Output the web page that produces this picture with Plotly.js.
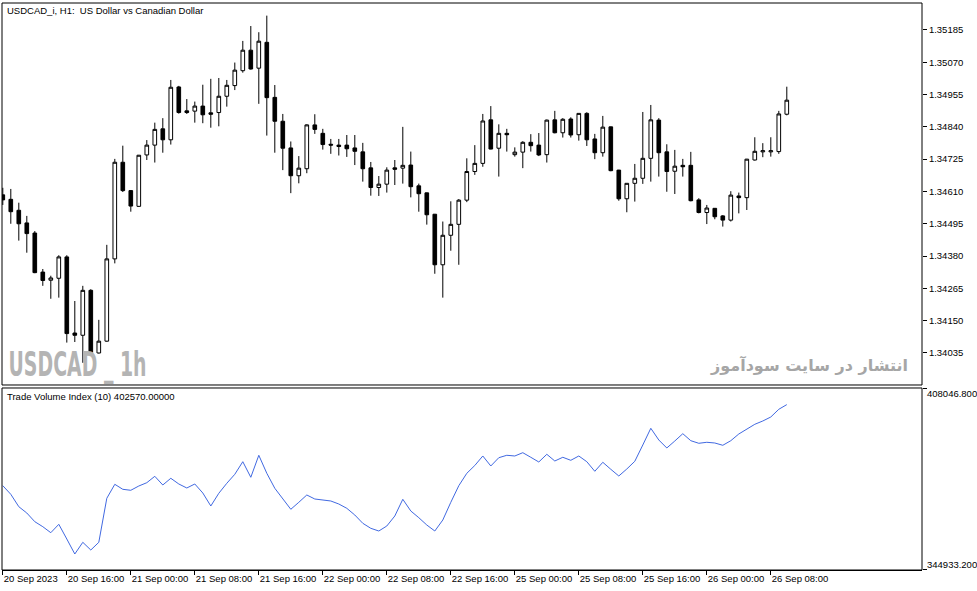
<!DOCTYPE html>
<html>
<head>
<meta charset="utf-8">
<script src="https://cdn.plot.ly/plotly-3.0.1.min.js"></script>
<style>html,body{margin:0;padding:0;background:#fff;}#chart{width:977px;height:591px;}</style>
</head>
<body>
<div id="chart"></div>
<script>
// ---- data (USDCAD_i, H1) ----
const openP = [1.34598,1.34582,1.34543,1.34498,1.34462,1.34323,1.34294,1.34301,1.34377,1.34106,
1.34098,1.34258,1.34035,1.34077,1.34370,1.34714,1.34613,1.34557,1.34740,1.34775,
1.34833,1.34794,1.34982,1.34897,1.34896,1.34914,1.34890,1.34891,1.34949,1.34987,
1.35040,1.35113,1.35049,1.35141,1.34945,1.34860,1.34765,1.34666,1.34691,1.34847,
1.34817,1.34778,1.34775,1.34775,1.34765,1.34751,1.34694,1.34624,1.34636,1.34694,
1.34693,1.34704,1.34630,1.34605,1.34529,1.34349,1.34454,1.34493,1.34579,1.34681,
1.34710,1.34865,1.34764,1.34817,1.34741,1.34750,1.34785,1.34775,1.34741,1.34865,
1.34819,1.34868,1.34812,1.34888,1.34797,1.34748,1.34840,1.34686,1.34584,1.34639,
1.34657,1.34728,1.34864,1.34751,1.34682,1.34703,1.34703,1.34580,1.34535,1.34550,
1.34523,1.34508,1.34594,1.34588,1.34722,1.34751,1.34751,1.34752,1.34885];
const highP = [1.34623,1.34619,1.34570,1.34523,1.34469,1.34334,1.34310,1.34383,1.34383,1.34220,
1.34274,1.34262,1.34153,1.34420,1.34726,1.34773,1.34615,1.34740,1.34793,1.34855,
1.34871,1.35007,1.34986,1.34939,1.34930,1.34990,1.35011,1.35014,1.35007,1.35069,
1.35146,1.35199,1.35177,1.35236,1.34989,1.34886,1.34788,1.34736,1.34849,1.34885,
1.34833,1.34797,1.34797,1.34811,1.34811,1.34783,1.34715,1.34665,1.34696,1.34722,
1.34840,1.34752,1.34638,1.34606,1.34530,1.34503,1.34575,1.34583,1.34728,1.34775,
1.34886,1.34914,1.34849,1.34833,1.34767,1.34789,1.34814,1.34818,1.34866,1.34897,
1.34871,1.34874,1.34888,1.34892,1.34815,1.34879,1.34841,1.34687,1.34640,1.34708,
1.34893,1.34918,1.34871,1.34778,1.34758,1.34726,1.34751,1.34586,1.34562,1.34551,
1.34526,1.34611,1.34606,1.34726,1.34803,1.34782,1.34803,1.34897,1.34983];
const lowP = [1.34562,1.34495,1.34435,1.34392,1.34319,1.34274,1.34228,1.34232,1.34072,1.34074,
1.34000,1.34034,1.34033,1.34075,1.34354,1.34608,1.34538,1.34555,1.34722,1.34713,
1.34748,1.34777,1.34887,1.34886,1.34855,1.34853,1.34837,1.34842,1.34912,1.34971,
1.35033,1.35044,1.34922,1.34809,1.34748,1.34686,1.34604,1.34639,1.34675,1.34815,
1.34759,1.34744,1.34738,1.34733,1.34704,1.34645,1.34595,1.34594,1.34606,1.34633,
1.34638,1.34589,1.34538,1.34492,1.34317,1.34232,1.34399,1.34349,1.34572,1.34669,
1.34698,1.34760,1.34663,1.34752,1.34734,1.34693,1.34752,1.34736,1.34713,1.34817,
1.34802,1.34802,1.34791,1.34772,1.34725,1.34734,1.34682,1.34577,1.34536,1.34574,
1.34637,1.34645,1.34663,1.34609,1.34601,1.34663,1.34575,1.34532,1.34494,1.34511,
1.34485,1.34503,1.34532,1.34544,1.34720,1.34732,1.34734,1.34744,1.34881];
const closeP = [1.34580,1.34538,1.34495,1.34460,1.34321,1.34293,1.34302,1.34377,1.34104,1.34098,
1.34258,1.34037,1.34077,1.34370,1.34714,1.34613,1.34558,1.34739,1.34775,1.34831,
1.34794,1.34981,1.34891,1.34891,1.34914,1.34883,1.34885,1.34949,1.34988,1.35042,
1.35113,1.35046,1.35145,1.34944,1.34860,1.34764,1.34666,1.34693,1.34847,1.34831,
1.34777,1.34775,1.34770,1.34762,1.34753,1.34691,1.34624,1.34636,1.34686,1.34689,
1.34703,1.34627,1.34602,1.34527,1.34349,1.34454,1.34493,1.34579,1.34681,1.34710,
1.34861,1.34761,1.34817,1.34812,1.34750,1.34785,1.34773,1.34740,1.34864,1.34819,
1.34867,1.34811,1.34888,1.34794,1.34748,1.34839,1.34684,1.34584,1.34639,1.34657,
1.34728,1.34865,1.34748,1.34681,1.34700,1.34698,1.34577,1.34535,1.34551,1.34520,
1.34508,1.34597,1.34588,1.34725,1.34753,1.34755,1.34755,1.34886,1.34935];
const tvi = [374140,371125,366777,364568,361518,359765,357661,360606,355452,350192,
354295,351595,354295,369723,374631,372878,372528,374035,375192,377436,
374386,376735,374737,373334,374737,371581,367023,371476,374982,378138,
382556,377086,384800,378488,373229,369723,365866,368320,370880,369477,
369021,368776,367724,366216,363867,360957,359204,358257,360010,363516,
369372,365270,362920,360361,358257,362114,368320,374140,378488,381223,
384554,381048,383958,384800,384554,385711,384098,382450,385150,382801,
384098,383046,384554,382556,379190,382345,379891,377542,379996,382696,
388411,394267,390164,387359,389814,392373,389919,389007,389358,389112,
388306,389919,392268,394021,395669,396826,398229,400929,402570];
const timeTickIdx = [0,8,16,24,32,40,48,56,64,72,80,88,96];
const timeTickText = ["20 Sep 2023","20 Sep 16:00","21 Sep 00:00","21 Sep 08:00","21 Sep 16:00",
"22 Sep 00:00","22 Sep 08:00","22 Sep 16:00","25 Sep 00:00","25 Sep 08:00","25 Sep 16:00",
"26 Sep 00:00","26 Sep 08:00"];
const priceTicks = [1.35185,1.35070,1.34955,1.34840,1.34725,1.34610,1.34495,1.34380,1.34265,1.34150,1.34035];
const tviScale = [344933.2, 408046.8];
const chartTitle = "USDCAD_i, H1:  US Dollar vs Canadian Dollar";
const tviTitle = "Trade Volume Index (10)";
const watermarkL = "USDCAD _ 1h";
const watermarkR = "انتشار در سایت سودآموز";

// ---- chart ----
const idx = openP.map((_, i) => i);
const FONT = "Liberation Sans, Arial, sans-serif";
const FS = 9.5;
const topDom = [0.3263, 1];
const botDom = [0, 0.321];

const traces = [
  {
    type: "candlestick", x: idx, open: openP, high: highP, low: lowP, close: closeP,
    xaxis: "x", yaxis: "y",
    increasing: {line: {color: "#000", width: 1}, fillcolor: "#fff"},
    decreasing: {line: {color: "#000", width: 1}, fillcolor: "#000"},
    whiskerwidth: 0, hoverinfo: "skip", showlegend: false
  },
  {
    type: "scatter", mode: "lines", x: idx, y: tvi, xaxis: "x", yaxis: "y2",
    line: {color: "#4169E1", width: 1}, hoverinfo: "skip", showlegend: false
  }
];

const layout = {
  width: 977, height: 591,
  margin: {l: 2, r: 55, t: 3, b: 21, pad: 0},
  paper_bgcolor: "#fff", plot_bgcolor: "#fff",
  showlegend: false, boxgap: 0.35,
  font: {family: FONT, size: FS, color: "#000"},
  xaxis: {
    range: [-0.1, 114.9], anchor: "y2", tickvals: timeTickIdx, ticktext: timeTickText,
    tickmode: "array", tickangle: 0, automargin: false,
    ticks: "outside", ticklen: 4, tickcolor: "#000", tickwidth: 1,
    ticklabelposition: "outside right", ticklabelstandoff: 0,
    showgrid: false, zeroline: false, showline: true, linecolor: "#000", linewidth: 1,
    rangeslider: {visible: false}, fixedrange: true,
    tickfont: {family: FONT, size: FS, color: "#000"}
  },
  yaxis: {
    domain: topDom, anchor: "x", side: "right", range: [1.33921, 1.35281],
    tickvals: priceTicks, ticktext: priceTicks.map(v => v.toFixed(5)), automargin: false,
    ticks: "outside", ticklen: 4, tickcolor: "#000",
    showgrid: false, zeroline: false, showline: false, fixedrange: true,
    tickfont: {family: FONT, size: FS, color: "#000"}
  },
  yaxis2: {
    domain: botDom, anchor: "x", side: "right", range: [344582.6, 408397.4],
    tickvals: tviScale, showticklabels: false, automargin: false,
    ticks: "outside", ticklen: 4, tickcolor: "#000",
    showgrid: false, zeroline: false, showline: false, fixedrange: true
  },
  shapes: [
    {type: "rect", xref: "paper", yref: "paper", x0: 0, x1: 1, y0: topDom[0], y1: topDom[1], line: {color: "#000", width: 1}},
    {type: "rect", xref: "paper", yref: "paper", x0: 0, x1: 1, y0: botDom[0], y1: botDom[1], line: {color: "#000", width: 1}}
  ],
  annotations: [
    {xref: "paper", yref: "paper", x: 0, y: 1, xanchor: "left", yanchor: "top", xshift: 3, yshift: 0,
     text: chartTitle, showarrow: false, font: {family: FONT, size: FS, color: "#000"}},
    {xref: "paper", yref: "paper", x: 0, y: botDom[1], xanchor: "left", yanchor: "top", xshift: 3, yshift: -1,
     text: tviTitle + " " + tvi[tvi.length - 1].toFixed(5), showarrow: false, font: {family: FONT, size: FS, color: "#000"}},
    {xref: "paper", yref: "y2", x: 1, y: tviScale[1], xanchor: "left", yanchor: "top", xshift: 3, yshift: 3,
     text: tviScale[1].toFixed(3), showarrow: false, font: {family: FONT, size: FS, color: "#000"}},
    {xref: "paper", yref: "y2", x: 1, y: tviScale[0], xanchor: "left", yanchor: "bottom", xshift: 3, yshift: -3,
     text: tviScale[0].toFixed(3), showarrow: false, font: {family: FONT, size: FS, color: "#000"}},
    {xref: "paper", yref: "paper", x: 0.0826, y: 0.3616, xanchor: "center", yanchor: "middle",
     text: "<b>" + watermarkL + "</b>", showarrow: false,
     font: {family: "DejaVu Sans, Liberation Sans, sans-serif", size: 33, color: "#b4b4b4"}},
    {xref: "paper", yref: "paper", x: 0.987, y: 0.3616, xanchor: "right", yanchor: "middle",
     text: "<b>" + watermarkR + "</b>", showarrow: false,
     font: {family: "DejaVu Sans, Noto Sans, sans-serif", size: 16, color: "#a6a6a6"}}
  ]
};

Plotly.newPlot("chart", traces, layout, {staticPlot: true, displayModeBar: false}).then(function (gd) {
  // compress the left watermark horizontally (condensed look)
  const t = gd.querySelector('g.annotation[data-index="4"] text');
  if (t) {
    t.setAttribute("textLength", "138");
    t.setAttribute("lengthAdjust", "spacingAndGlyphs");
  }
});
</script>
</body>
</html>
